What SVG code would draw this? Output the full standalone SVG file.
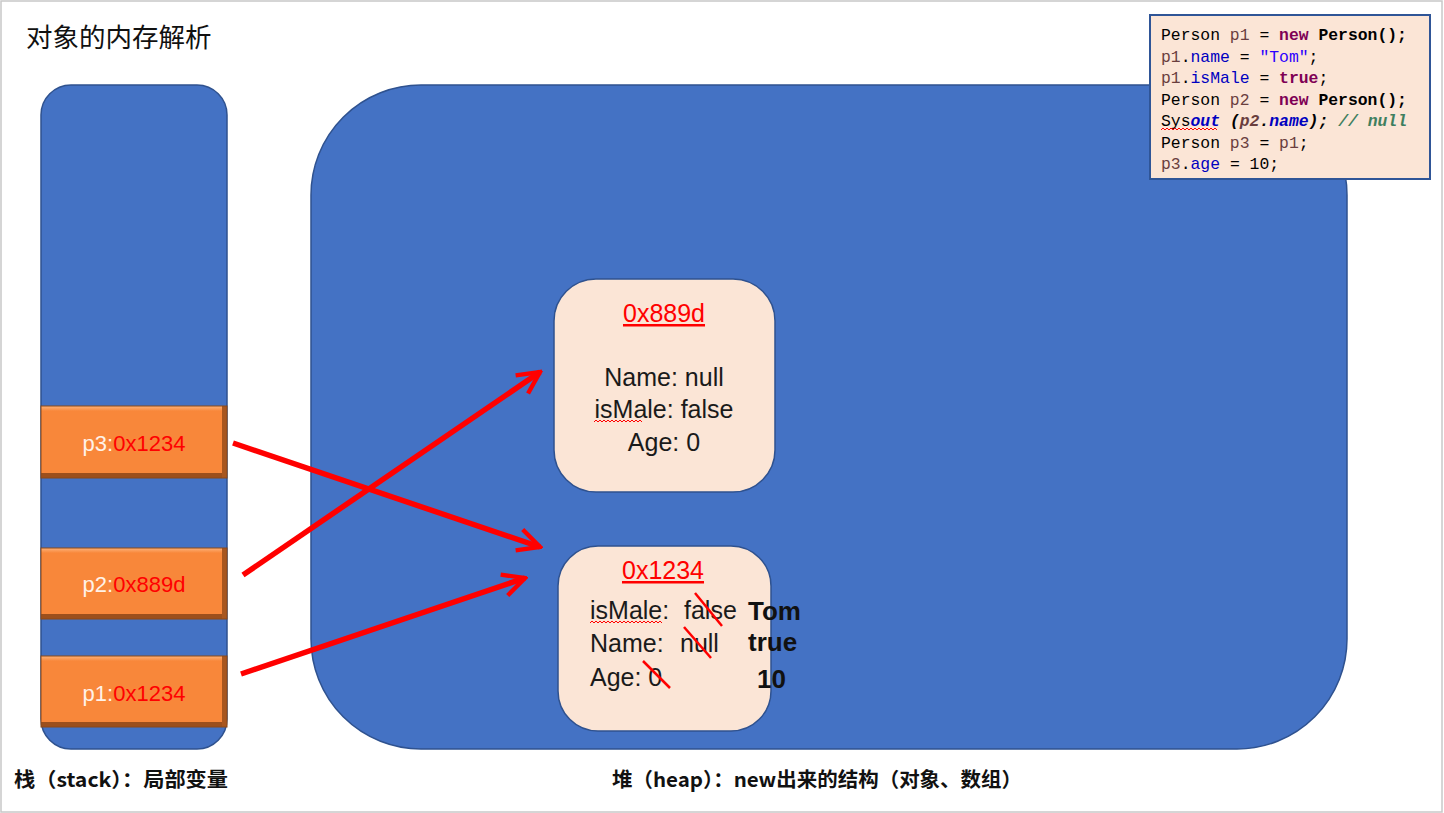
<svg xmlns="http://www.w3.org/2000/svg" width="1444" height="813" viewBox="0 0 1444 813">
<defs>
<style>
.blue{fill:#4472C4;stroke:#2F528F;stroke-width:1.5}
.obj{fill:#FBE5D6;stroke:#2F528F;stroke-width:1.5}
.orange{fill:#F8873A}
.code{font-family:"Liberation Mono","DejaVu Sans Mono",monospace;font-size:16.4px;fill:#000}
.sans{font-family:"Noto Sans CJK SC","Noto Sans",sans-serif}
.body{font-family:"Liberation Sans","Noto Sans",sans-serif;font-size:25px;fill:#1a1a1a}
.addr{font-family:"Liberation Sans","Noto Sans",sans-serif;font-size:25px;fill:#FF0000;text-decoration:underline}
.var{font-family:"Liberation Sans","Noto Sans",sans-serif;font-size:22px}
.bold{font-family:"Liberation Sans","Noto Sans",sans-serif;font-size:26px;font-weight:bold;fill:#111}
.v{fill:#6A3E3E}.kw{fill:#7F0055;font-weight:bold}.fld{fill:#0000C0}.str{fill:#2A00FF}
.arrow{stroke:#FF0000;stroke-width:5.5;fill:none;stroke-linecap:butt}
.strike{stroke:#FF0000;stroke-width:2.5}
.squig{stroke:#FF0000;stroke-width:1;fill:none}
</style>
<marker id="ah" viewBox="0 0 10 10" refX="9" refY="5" markerWidth="5" markerHeight="5" markerUnits="strokeWidth" orient="auto">
<path d="M1,1 L9,5 L1,9" fill="none" stroke="#FF0000" stroke-width="1.6" stroke-linejoin="miter"/>
</marker>
<linearGradient id="bevelTop" x1="0" y1="0" x2="0" y2="1">
<stop offset="0" stop-color="#FDB27A"/><stop offset="1" stop-color="#F8873A"/>
</linearGradient>
</defs>
<rect x="0" y="0" width="1444" height="813" fill="#FFFFFF"/>
<rect x="1" y="1" width="1441" height="811" fill="none" stroke="#C8C8C8" stroke-width="1.5"/>

<text x="26" y="47" class="sans" font-size="26.5" fill="#111">对象的内存解析</text>

<g id="stack">
<rect x="41" y="85" width="186" height="664" rx="30" ry="30" class="blue"/>
</g>
<g id="heap">
<rect x="311" y="85" width="1036" height="664" rx="110" ry="110" class="blue"/>
</g>

<g id="code">
<rect x="1150" y="15" width="280" height="164" fill="#FBE5D6" stroke="#2F5597" stroke-width="2"/>
<text class="code" x="1161" y="40">Person <tspan class="v">p1</tspan> = <tspan class="kw">new</tspan> <tspan font-weight="bold">Person();</tspan></text>
<text class="code" x="1161" y="62"><tspan class="v">p1</tspan>.<tspan class="fld">name</tspan> = <tspan class="str">"Tom"</tspan>;</text>
<text class="code" x="1161" y="83"><tspan class="v">p1</tspan>.<tspan class="fld">isMale</tspan> = <tspan class="kw">true</tspan>;</text>
<text class="code" x="1161" y="105">Person <tspan class="v">p2</tspan> = <tspan class="kw">new</tspan> <tspan font-weight="bold">Person();</tspan></text>
<text class="code" x="1161" y="126">Sys<tspan class="fld" font-weight="bold" font-style="italic">out</tspan> <tspan font-weight="bold" font-style="italic">(<tspan class="v">p2</tspan>.<tspan class="fld">name</tspan>);</tspan> <tspan fill="#3F7F5F" font-weight="bold" font-style="italic">// null</tspan></text>
<path class="squig" d="M1161,130 l2,-2 l2,2 l2,-2 l2,2 l2,-2 l2,2 l2,-2 l2,2 l2,-2 l2,2 l2,-2 l2,2 l2,-2 l2,2 l2,-2 l2,2 l2,-2 l2,2 l2,-2 l2,2 l2,-2 l2,2 l2,-2 l2,2 l2,-2 l2,2 l2,-2 l2,2"/>
<text class="code" x="1161" y="148">Person <tspan class="v">p3</tspan> = <tspan class="v">p1</tspan>;</text>
<text class="code" x="1161" y="169"><tspan class="v">p3</tspan>.<tspan class="fld">age</tspan> = 10;</text>
</g>

<g id="var-p3">
<rect x="41" y="406" width="186" height="72" class="orange"/>
<rect x="41" y="406" width="186" height="5" fill="url(#bevelTop)"/>
<rect x="41" y="473" width="186" height="5" fill="#9C4F1C"/>
<rect x="222" y="406" width="5" height="72" fill="#A8561F"/>
<rect x="41" y="406" width="186" height="72" fill="none" stroke="#8A4818" stroke-width="1"/>
<text x="134" y="451" class="var" text-anchor="middle"><tspan fill="#FFF2E8">p3:</tspan><tspan fill="#FF0000">0x1234</tspan></text>
</g>
<g id="var-p2">
<rect x="41" y="548" width="186" height="71" class="orange"/>
<rect x="41" y="548" width="186" height="5" fill="url(#bevelTop)"/>
<rect x="41" y="614" width="186" height="5" fill="#9C4F1C"/>
<rect x="222" y="548" width="5" height="71" fill="#A8561F"/>
<rect x="41" y="548" width="186" height="71" fill="none" stroke="#8A4818" stroke-width="1"/>
<text x="134" y="592" class="var" text-anchor="middle"><tspan fill="#FFF2E8">p2:</tspan><tspan fill="#FF0000">0x889d</tspan></text>
</g>
<g id="var-p1">
<rect x="41" y="656" width="186" height="71" class="orange"/>
<rect x="41" y="656" width="186" height="5" fill="url(#bevelTop)"/>
<rect x="41" y="722" width="186" height="5" fill="#9C4F1C"/>
<rect x="222" y="656" width="5" height="71" fill="#A8561F"/>
<rect x="41" y="656" width="186" height="71" fill="none" stroke="#8A4818" stroke-width="1"/>
<text x="134" y="701" class="var" text-anchor="middle"><tspan fill="#FFF2E8">p1:</tspan><tspan fill="#FF0000">0x1234</tspan></text>
</g>

<g id="obj-889d">
<rect x="554" y="279" width="221" height="213" rx="42" ry="42" class="obj"/>
<text x="664" y="322" class="addr" text-anchor="middle">0x889d</text>
<text x="664" y="386" class="body" text-anchor="middle">Name: null</text>
<text x="664" y="418" class="body" text-anchor="middle">isMale: false</text>
<text x="664" y="451" class="body" text-anchor="middle">Age: 0</text>
<path class="squig" d="M594,422 l2,-2 l2,2 l2,-2 l2,2 l2,-2 l2,2 l2,-2 l2,2 l2,-2 l2,2 l2,-2 l2,2 l2,-2 l2,2 l2,-2 l2,2 l2,-2 l2,2 l2,-2 l2,2 l2,-2 l2,2 l2,-2 l2,2"/>
</g>

<g id="obj-1234">
<rect x="558" y="546" width="213" height="185" rx="40" ry="40" class="obj"/>
<text x="663" y="579" class="addr" text-anchor="middle">0x1234</text>
<text x="590" y="619" class="body">isMale:<tspan x="684">false</tspan></text>
<text x="590" y="652" class="body">Name:<tspan x="680">null</tspan></text>
<text x="590" y="686" class="body">Age: 0</text>
<path class="squig" d="M590,623 l2,-2 l2,2 l2,-2 l2,2 l2,-2 l2,2 l2,-2 l2,2 l2,-2 l2,2 l2,-2 l2,2 l2,-2 l2,2 l2,-2 l2,2 l2,-2 l2,2 l2,-2 l2,2 l2,-2 l2,2 l2,-2 l2,2 l2,-2 l2,2 l2,-2 l2,2 l2,-2 l2,2 l2,-2 l2,2 l2,-2 l2,2 l2,-2 l2,2"/>
<line class="strike" x1="695" y1="593" x2="722" y2="626"/>
<line class="strike" x1="684" y1="627" x2="711" y2="658"/>
<line class="strike" x1="643" y1="661" x2="670" y2="688"/>
<text x="748" y="620" class="bold">Tom</text>
<text x="748" y="651" class="bold">true</text>
<text x="757" y="688" class="bold">10</text>
</g>

<g id="connectors">
<line class="arrow" x1="233" y1="443" x2="540" y2="547" marker-end="url(#ah)"/>
<line class="arrow" x1="243" y1="575" x2="540" y2="372" marker-end="url(#ah)"/>
<line class="arrow" x1="241" y1="674" x2="525" y2="578" marker-end="url(#ah)"/>
</g>

<text x="14" y="787" class="sans" font-size="20" font-weight="bold" fill="#111" textLength="214" lengthAdjust="spacingAndGlyphs">栈（stack）：局部变量</text>
<text x="612" y="787" class="sans" font-size="20" font-weight="bold" fill="#111" textLength="410" lengthAdjust="spacingAndGlyphs">堆（heap）：new出来的结构（对象、数组）</text>
</svg>
